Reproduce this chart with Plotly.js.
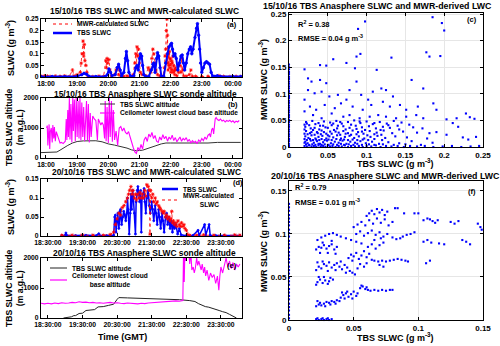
<!DOCTYPE html>
<html><head><meta charset="utf-8">
<script src="https://cdn.plot.ly/plotly-3.0.1.min.js"></script>
<style>html,body{margin:0;padding:0;background:#fff}#plot{width:500px;height:346px}</style>
</head><body><div id="plot"></div><script>
// ---------- DATA ----------
// time axis labels
const timeTicksA = [18,19,20,21,22,23,24];
const timeLabelsA = ['18:00','19:00','20:00','21:00','22:00','23:00','00:00'];
const timeTicksD = [18.5,19.5,20.5,21.5,22.5,23.5];
const timeLabelsD = ['18:30:00','19:30:00','20:30:00','21:30:00','22:30:00','23:30:00'];

// (a) 15/10/16 SLWC [hour, g m-3]
const aMwr = [[17.85,0.003],[17.95,0.005],[18.05,0.004],[18.15,0.002],[18.3,0.004],[18.45,0.003],[18.6,0.005],[18.75,0.002],[18.85,0.03],[18.9,0.005],[19.0,0.01],[19.1,0.02],[19.13,0.06],[19.16,0.1],[19.19,0.155],[19.21,0.09],[19.23,0.14],[19.25,0.07],[19.28,0.05],[19.31,0.02],[19.35,0.003],[19.5,0.002],[19.7,0.004],[19.85,0.003],[19.92,0.07],[19.94,0.04],[19.96,0.08],[19.98,0.06],[20.02,0.075],[20.05,0.03],[20.1,0.005],[20.2,0.01],[20.25,0.03],[20.3,0.04],[20.33,0.01],[20.36,0.03],[20.4,0.005],[20.5,0.003],[20.6,0.005],[20.7,0.002],[20.8,0.01],[20.85,0.06],[20.88,0.1],[20.9,0.04],[20.92,0.13],[20.94,0.09],[20.97,0.12],[21.0,0.06],[21.03,0.02],[21.08,0.01],[21.2,0.005],[21.28,0.04],[21.32,0.03],[21.36,0.02],[21.4,0.08],[21.43,0.12],[21.46,0.1],[21.5,0.06],[21.53,0.03],[21.58,0.01],[21.65,0.005],[21.75,0.003],[21.8,0.04],[21.82,0.09],[21.84,0.12],[21.86,0.2],[21.88,0.25],[21.89,0.06],[21.9,0.18],[21.92,0.03],[21.93,0.1],[21.95,0.05],[21.96,0.11],[21.98,0.04],[21.99,0.08],[22.01,0.02],[22.02,0.07],[22.04,0.03],[22.05,0.06],[22.07,0.09],[22.08,0.02],[22.1,0.05],[22.12,0.03],[22.13,0.01],[22.15,0.04],[22.17,0.03],[22.2,0.005],[22.25,0.02],[22.3,0.05],[22.33,0.02],[22.36,0.08],[22.38,0.03],[22.42,0.005],[22.5,0.003],[22.6,0.01],[22.65,0.03],[22.7,0.002],[22.8,0.003],[23.0,0.002],[23.2,0.003],[23.4,0.002],[23.55,0.006],[23.7,0.003],[23.9,0.002],[24.1,0.003],[24.25,0.002]];
const aTbs = [[17.85,0.001],[18.2,0.002],[18.6,0.001],[19.0,0.003],[19.15,0.01],[19.22,0.016],[19.3,0.012],[19.38,0.003],[19.6,0.002],[19.9,0.002],[19.97,0.01],[20.02,0.035],[20.07,0.02],[20.12,0.005],[20.22,0.01],[20.28,0.04],[20.33,0.055],[20.38,0.03],[20.43,0.004],[20.5,0.02],[20.55,0.08],[20.58,0.11],[20.62,0.07],[20.66,0.02],[20.72,0.003],[20.82,0.005],[20.88,0.04],[20.92,0.05],[20.96,0.03],[21.0,0.08],[21.03,0.1],[21.07,0.09],[21.1,0.05],[21.14,0.01],[21.2,0.002],[21.3,0.003],[21.38,0.03],[21.43,0.055],[21.46,0.06],[21.5,0.02],[21.55,0.08],[21.58,0.105],[21.62,0.09],[21.66,0.04],[21.7,0.004],[21.78,0.003],[21.84,0.06],[21.9,0.1],[21.95,0.13],[22.0,0.14],[22.03,0.145],[22.06,0.12],[22.1,0.09],[22.14,0.1],[22.18,0.08],[22.23,0.03],[22.28,0.06],[22.33,0.09],[22.37,0.095],[22.41,0.06],[22.45,0.03],[22.5,0.06],[22.55,0.1],[22.6,0.12],[22.64,0.13],[22.68,0.1],[22.72,0.12],[22.78,0.17],[22.83,0.21],[22.86,0.23],[22.9,0.18],[22.93,0.12],[22.96,0.06],[23.0,0.02],[23.05,0.04],[23.1,0.06],[23.15,0.066],[23.2,0.06],[23.25,0.055],[23.3,0.02],[23.35,0.004],[23.5,0.005],[23.6,0.002],[24.0,0.002],[24.25,0.002]];

// (b) 15/10/16 altitudes [hour, m a.g.l.]
const bTbsAlt = [[17.84,180],[18.0,185],[18.2,190],[18.35,200],[18.45,260],[18.55,330],[18.7,420],[18.85,500],[19.0,550],[19.2,570],[19.4,580],[19.6,575],[19.8,540],[20.0,470],[20.2,430],[20.4,390],[20.6,330],[20.75,270],[20.9,240],[21.1,260],[21.3,320],[21.5,400],[21.7,470],[21.85,500],[22.0,500],[22.3,495],[22.6,500],[22.9,500],[23.2,500],[23.5,520],[23.8,520],[24.1,510],[24.25,520]];
const bCeil = [[18.02,1000],[18.04,1080],[18.06,420],[18.08,950],[18.1,1120],[18.12,300],[18.14,880],[18.17,1000],[18.2,520],[18.22,1100],[18.25,650],[18.27,1030],[18.3,560],[18.33,880],[18.45,500],[18.5,520],[18.55,480],[18.62,560],[18.65,1300],[18.67,600],[18.7,1600],[18.72,700],[18.75,2000],[18.77,620],[18.8,1800],[18.83,520],[18.86,2000],[18.88,900],[18.91,1950],[18.94,560],[18.97,2000],[19.0,700],[19.03,1900],[19.06,650],[19.09,2000],[19.12,580],[19.15,1850],[19.18,700],[19.21,1700],[19.24,560],[19.27,1200],[19.3,1900],[19.33,600],[19.36,1800],[19.39,520],[19.42,1500],[19.45,700],[19.5,1400],[19.55,1300],[19.6,1250],[19.65,600],[19.68,1300],[19.72,1200],[19.76,1100],[19.8,1180],[19.84,1100],[19.88,650],[19.9,1900],[19.93,560],[19.96,1700],[20.0,500],[20.03,2000],[20.06,700],[20.1,1900],[20.13,540],[20.16,1600],[20.2,600],[20.25,900],[20.3,420],[20.35,1000],[20.4,1050],[20.45,900],[20.5,1000],[20.55,850],[20.6,800],[20.65,880],[20.7,700],[20.75,500],[20.8,350],[20.85,200],[20.9,150],[20.95,350],[21.0,250],[21.05,450],[21.1,300],[21.15,600],[21.2,700],[21.25,550],[21.3,800],[21.35,700],[21.4,850],[21.45,650],[21.5,750],[21.55,560],[21.6,520],[21.65,700],[21.7,600],[21.75,780],[21.8,640],[21.85,720],[21.9,560],[21.95,700],[22.0,620],[22.05,760],[22.1,580],[22.15,680],[22.2,540],[22.25,620],[22.3,700],[22.35,560],[22.4,650],[22.45,600],[22.5,680],[22.55,550],[22.6,620],[22.65,500],[22.7,580],[22.75,520],[22.8,560],[22.85,480],[22.9,600],[22.95,540],[23.0,650],[23.05,580],[23.1,700],[23.15,620],[23.2,760],[23.25,800],[23.28,700],[23.32,950],[23.35,1000],[23.38,800],[23.4,1050],[23.43,1300],[23.46,1350],[23.5,1280],[23.55,1250],[23.6,1300],[23.65,1230],[23.7,1260],[23.75,1200],[23.8,1250],[23.85,1220],[23.9,1260],[23.95,1200],[24.0,1240],[24.05,1180],[24.1,1230],[24.15,1200],[24.2,1250]];

// (d) 20/10/16 SLWC [hour, g m-3]
const dTbs = [[18.9,0.001],[19.0,0.002],[19.02,0.008],[19.05,0.001],[19.3,0.001],[19.6,0.002],[19.9,0.001],[19.97,0.006],[20.0,0.001],[20.2,0.001],[20.4,0.002],[20.43,0.05],[20.45,0.055],[20.47,0.01],[20.5,0.04],[20.52,0.06],[20.55,0.02],[20.58,0.065],[20.6,0.07],[20.63,0.03],[20.66,0.05],[20.69,0.065],[20.72,0.055],[20.75,0.04],[20.78,0.06],[20.8,0.1],[20.82,0.07],[20.85,0.005],[20.88,0.06],[20.9,0.11],[20.92,0.07],[20.95,0.12],[20.97,0.1],[21.0,0.06],[21.03,0.005],[21.05,0.09],[21.08,0.12],[21.1,0.13],[21.13,0.11],[21.15,0.09],[21.18,0.12],[21.2,0.01],[21.22,0.1],[21.25,0.11],[21.28,0.125],[21.3,0.09],[21.33,0.06],[21.36,0.1],[21.4,0.12],[21.43,0.08],[21.46,0.06],[21.5,0.09],[21.53,0.07],[21.56,0.04],[21.6,0.08],[21.63,0.06],[21.66,0.03],[21.7,0.07],[21.73,0.05],[21.76,0.02],[21.8,0.06],[21.83,0.04],[21.86,0.01],[21.9,0.05],[21.93,0.06],[21.96,0.03],[22.0,0.05],[22.03,0.02],[22.06,0.04],[22.1,0.01],[22.13,0.035],[22.16,0.02],[22.2,0.03],[22.25,0.005],[22.3,0.02],[22.35,0.003],[22.5,0.001],[22.7,0.002],[22.84,0.015],[22.87,0.001],[23.03,0.03],[23.06,0.002],[23.16,0.03],[23.19,0.002],[23.35,0.001],[23.6,0.001],[23.9,0.001],[24.05,0.001]];
const dMwr = [[18.9,0.002],[19.2,0.002],[19.5,0.003],[19.8,0.002],[20.1,0.002],[20.3,0.004],[20.4,0.01],[20.45,0.03],[20.5,0.045],[20.55,0.06],[20.6,0.055],[20.65,0.075],[20.7,0.08],[20.75,0.09],[20.8,0.1],[20.83,0.11],[20.86,0.12],[20.9,0.13],[20.93,0.11],[20.96,0.12],[21.0,0.1],[21.03,0.11],[21.06,0.095],[21.1,0.11],[21.13,0.1],[21.16,0.115],[21.2,0.1],[21.23,0.11],[21.26,0.1],[21.3,0.12],[21.33,0.105],[21.36,0.135],[21.4,0.13],[21.43,0.12],[21.45,0.005],[21.47,0.12],[21.5,0.1],[21.53,0.11],[21.56,0.09],[21.6,0.1],[21.63,0.085],[21.66,0.09],[21.7,0.08],[21.73,0.075],[21.76,0.07],[21.8,0.065],[21.83,0.06],[21.86,0.065],[21.9,0.05],[21.93,0.055],[21.96,0.045],[22.0,0.05],[22.03,0.04],[22.06,0.045],[22.08,0.065],[22.1,0.035],[22.13,0.04],[22.16,0.03],[22.2,0.035],[22.23,0.025],[22.26,0.04],[22.3,0.03],[22.33,0.025],[22.36,0.035],[22.4,0.025],[22.43,0.03],[22.46,0.02],[22.5,0.015],[22.53,0.005],[22.6,0.002],[22.8,0.002],[23.0,0.003],[23.3,0.002],[23.6,0.002],[23.9,0.003],[24.05,0.002]];

// (e) 20/10/16 altitudes [hour, m a.g.l.]
const eTbsAlt = [[18.95,0],[19.1,10],[19.18,40],[19.25,80],[19.3,80],[19.4,150],[19.5,160],[19.6,250],[19.75,260],[19.85,280],[19.95,370],[20.1,380],[20.25,420],[20.4,460],[20.5,620],[20.55,680],[20.8,670],[21.1,660],[21.4,650],[21.7,630],[22.0,620],[22.3,610],[22.6,580],[22.75,550],[22.85,480],[22.95,420],[23.05,380],[23.15,360],[23.25,330],[23.35,290],[23.45,250],[23.55,210],[23.65,180],[23.75,120],[23.85,60],[23.92,10],[23.95,0]];
const eCeil = [[18.3,490],[18.4,470],[18.5,490],[18.6,470],[18.7,500],[18.8,480],[18.9,510],[19.0,490],[19.1,500],[19.2,520],[19.3,510],[19.4,540],[19.5,520],[19.6,530],[19.7,510],[19.8,520],[19.9,500],[20.0,510],[20.1,490],[20.2,500],[20.3,520],[20.4,500],[20.5,510],[20.6,490],[20.7,480],[20.8,500],[20.9,490],[21.0,480],[21.1,470],[21.2,490],[21.3,480],[21.4,500],[21.5,510],[21.6,520],[21.7,530],[21.8,520],[21.9,540],[22.0,550],[22.1,560],[22.2,570],[22.3,560],[22.4,580],[22.42,2200],[22.44,1200],[22.46,2300],[22.48,1900],[22.5,2300],[22.53,2100],[22.56,2400],[22.6,1800],[22.63,2200],[22.66,1600],[22.7,1700],[22.73,1500],[22.76,1650],[22.8,2000],[22.83,1750],[22.86,1900],[22.9,1700],[22.93,1600],[22.96,1800],[23.0,1500],[23.03,1700],[23.06,1400],[23.1,1600],[23.15,1250],[23.2,1500],[23.25,1350],[23.3,1450],[23.35,1150],[23.4,1400],[23.44,930],[23.47,1400],[23.5,1700],[23.55,1500],[23.6,1800],[23.65,2000],[23.7,1700],[23.75,1900],[23.8,1650],[23.85,1850],[23.9,1600],[23.95,1800],[24.0,1700],[24.05,1800]];

// (c) 15/10/16 scatter [TBS SLWC, MWR SLWC]
const cZero = [[0,0.155],[0,0.15],[0,0.146],[0,0.141],[0,0.137],[0,0.132],[0,0.128],[0,0.123],[0,0.119],[0,0.114],[0,0.11],[0,0.105],[0,0.101],[0,0.096],[0,0.092],[0,0.087],[0,0.083],[0,0.078],[0,0.074],[0,0.069],[0,0.065],[0,0.06],[0,0.056],[0,0.051],[0,0.047],[0,0.042],[0,0.038],[0,0.033],[0,0.029],[0,0.024],[0,0.02],[0,0.015],[0,0.011],[0,0.006],[0,0.002]];
const cHigh = [[0.185,0.244],[0.098,0.236],[0.197,0.233],[0.2,0.219],[0.089,0.222],[0.177,0.178],[0.181,0.17],[0.195,0.171],[0.132,0.168],[0.087,0.17],[0.092,0.175],[0.057,0.165],[0.074,0.158],[0.04,0.154],[0.048,0.153],[0.02,0.146],[0.113,0.145],[0.085,0.148],[0.158,0.126],[0.173,0.11],[0.186,0.082],[0.19,0.07],[0.203,0.052],[0.216,0.054],[0.228,0.063],[0.233,0.056],[0.239,0.053],[0.211,0.045],[0.218,0.038],[0.224,0.018],[0.231,0.014],[0.241,0.019],[0.203,0.023],[0.19,0.028],[0.181,0.026]];
const cMid = [[0.0245,0.129],[0.029,0.123],[0.04,0.126],[0.048,0.12],[0.0245,0.107],[0.033,0.101],[0.042,0.104],[0.052,0.095],[0.063,0.098],[0.074,0.089],[0.078,0.107],[0.087,0.123],[0.093,0.098],[0.102,0.089],[0.108,0.104],[0.119,0.11],[0.125,0.107],[0.134,0.095],[0.121,0.085],[0.027,0.076],[0.035,0.07],[0.046,0.079],[0.059,0.073],[0.067,0.082],[0.082,0.076],[0.095,0.07],[0.106,0.079],[0.13,0.076],[0.143,0.079],[0.151,0.07],[0.166,0.076],[0.031,0.06],[0.042,0.054],[0.055,0.063],[0.07,0.057],[0.078,0.06],[0.091,0.054],[0.104,0.057],[0.115,0.06],[0.125,0.057],[0.138,0.054],[0.151,0.057],[0.164,0.06],[0.173,0.054],[0.02,0.089],[0.02,0.067]];
const cLow = [[0.022,0.047],[0.03,0.049],[0.038,0.045],[0.045,0.048],[0.053,0.046],[0.061,0.049],[0.068,0.044],[0.076,0.047],[0.084,0.05],[0.092,0.045],[0.1,0.048],[0.108,0.043],[0.117,0.047],[0.126,0.044],[0.135,0.049],[0.145,0.046],[0.155,0.042],[0.021,0.038],[0.026,0.041],[0.033,0.036],[0.04,0.04],[0.047,0.037],[0.055,0.041],[0.062,0.035],[0.07,0.039],[0.078,0.036],[0.086,0.04],[0.094,0.037],[0.103,0.039],[0.112,0.035],[0.121,0.038],[0.13,0.036],[0.14,0.04],[0.16,0.037],[0.172,0.035],[0.022,0.03],[0.027,0.026],[0.031,0.032],[0.036,0.028],[0.042,0.031],[0.048,0.025],[0.053,0.029],[0.058,0.032],[0.064,0.027],[0.07,0.03],[0.076,0.026],[0.082,0.031],[0.089,0.028],[0.096,0.025],[0.104,0.03],[0.113,0.027],[0.122,0.031],[0.133,0.026],[0.147,0.029],[0.165,0.027],[0.021,0.02],[0.025,0.017],[0.029,0.022],[0.034,0.016],[0.038,0.019],[0.043,0.021],[0.048,0.016],[0.052,0.02],[0.057,0.018],[0.062,0.022],[0.067,0.016],[0.072,0.019],[0.078,0.021],[0.084,0.017],[0.09,0.02],[0.097,0.016],[0.105,0.019],[0.114,0.021],[0.124,0.017],[0.137,0.02],[0.152,0.018],[0.178,0.016],[0.021,0.01],[0.024,0.007],[0.028,0.012],[0.032,0.008],[0.036,0.011],[0.04,0.006],[0.044,0.009],[0.049,0.012],[0.054,0.007],[0.059,0.01],[0.064,0.008],[0.069,0.012],[0.074,0.006],[0.079,0.01],[0.085,0.008],[0.092,0.011],[0.099,0.007],[0.107,0.01],[0.116,0.006],[0.128,0.009],[0.142,0.007],[0.158,0.011],[0.185,0.008],[0.02,0.002],[0.023,0.001],[0.026,0.003],[0.029,0.001],[0.032,0.002],[0.035,0.0],[0.038,0.003],[0.041,0.001],[0.044,0.002],[0.047,0.0],[0.05,0.003],[0.053,0.001],[0.056,0.002],[0.06,0.0],[0.064,0.002],[0.068,0.001],[0.072,0.003],[0.076,0.0],[0.08,0.002],[0.085,0.001],[0.09,0.002],[0.095,0.0],[0.1,0.002],[0.106,0.001],[0.112,0.003],[0.118,0.0],[0.125,0.002],[0.132,0.001],[0.14,0.002],[0.148,0.0],[0.156,0.002],[0.165,0.001],[0.175,0.002],[0.186,0.0],[0.198,0.001],[0.21,0.002],[0.222,0.0],[0.234,0.001],[0.245,0.002]];
const cLow2 = [[0.023,0.044],[0.028,0.035],[0.034,0.043],[0.039,0.033],[0.044,0.04],[0.05,0.036],[0.057,0.044],[0.063,0.04],[0.066,0.047],[0.073,0.033],[0.08,0.042],[0.087,0.034],[0.091,0.048],[0.098,0.032],[0.11,0.045],[0.118,0.032],[0.128,0.041],[0.142,0.033],[0.024,0.024],[0.029,0.028],[0.033,0.023],[0.037,0.026],[0.041,0.024],[0.045,0.028],[0.05,0.022],[0.055,0.025],[0.06,0.029],[0.066,0.023],[0.073,0.025],[0.08,0.023],[0.087,0.024],[0.094,0.029],[0.101,0.022],[0.11,0.024],[0.119,0.023],[0.023,0.013],[0.027,0.015],[0.031,0.013],[0.035,0.014],[0.039,0.013],[0.042,0.015],[0.046,0.013],[0.051,0.014],[0.055,0.013],[0.061,0.015],[0.066,0.013],[0.071,0.014],[0.076,0.013],[0.082,0.014],[0.088,0.013],[0.095,0.014],[0.102,0.013],[0.11,0.015],[0.12,0.013],[0.022,0.005],[0.026,0.004],[0.03,0.005],[0.034,0.004],[0.038,0.006],[0.042,0.004],[0.046,0.005],[0.051,0.004],[0.057,0.005],[0.062,0.004],[0.067,0.006],[0.071,0.004],[0.077,0.005],[0.083,0.004],[0.088,0.006],[0.094,0.004],[0.103,0.005],[0.11,0.004],[0.121,0.005],[0.135,0.004],[0.15,0.005],[0.17,0.004],[0.02,0.025],[0.02,0.033],[0.02,0.042],[0.02,0.015],[0.02,0.008]];

// (f) 20/10/16 scatter [TBS SLWC, MWR SLWC]
const fZero = [[0,0.135],[0,0.131],[0,0.127],[0,0.122],[0,0.118],[0,0.114],[0,0.11],[0,0.105],[0,0.101],[0,0.097],[0,0.092],[0,0.088],[0,0.084],[0,0.079],[0,0.075],[0,0.071],[0,0.067],[0,0.062],[0,0.058],[0,0.054],[0,0.049],[0,0.045],[0,0.041],[0,0.036],[0,0.032],[0,0.028],[0,0.024],[0,0.019],[0,0.015],[0,0.011],[0,0.006],[0,0.002]];
const fPts = [[0.021,0.001],[0.023,0.0],[0.025,0.001],[0.027,0.0],[0.029,0.001],[0.031,0.0],[0.033,0.001],[0.022,0.002],[0.026,0.002],[0.03,0.002],[0.021,0.016],[0.023,0.018],[0.025,0.017],[0.027,0.019],[0.029,0.021],[0.031,0.02],[0.033,0.022],[0.035,0.021],[0.037,0.023],[0.039,0.022],[0.024,0.02],[0.028,0.016],[0.032,0.018],[0.022,0.022],[0.036,0.019],[0.04,0.026],[0.042,0.029],[0.044,0.031],[0.046,0.027],[0.048,0.03],[0.05,0.033],[0.052,0.028],[0.045,0.033],[0.041,0.032],[0.049,0.025],[0.053,0.031],[0.043,0.025],[0.055,0.037],[0.057,0.039],[0.059,0.036],[0.061,0.035],[0.063,0.034],[0.066,0.035],[0.069,0.034],[0.072,0.035],[0.075,0.034],[0.078,0.035],[0.08,0.035],[0.056,0.04],[0.06,0.038],[0.021,0.041],[0.022,0.044],[0.024,0.047],[0.026,0.043],[0.028,0.046],[0.03,0.042],[0.032,0.049],[0.023,0.05],[0.027,0.05],[0.031,0.045],[0.034,0.047],[0.021,0.058],[0.023,0.062],[0.025,0.06],[0.027,0.065],[0.029,0.063],[0.031,0.067],[0.033,0.061],[0.035,0.064],[0.037,0.066],[0.039,0.062],[0.041,0.059],[0.043,0.064],[0.045,0.061],[0.047,0.057],[0.049,0.055],[0.051,0.053],[0.022,0.067],[0.026,0.068],[0.03,0.057],[0.036,0.058],[0.04,0.068],[0.044,0.055],[0.053,0.06],[0.055,0.065],[0.058,0.062],[0.06,0.066],[0.046,0.072],[0.048,0.076],[0.05,0.074],[0.052,0.078],[0.054,0.071],[0.056,0.075],[0.058,0.08],[0.06,0.073],[0.062,0.077],[0.064,0.07],[0.049,0.069],[0.066,0.069],[0.069,0.068],[0.072,0.069],[0.075,0.068],[0.078,0.069],[0.081,0.07],[0.084,0.071],[0.087,0.07],[0.09,0.069],[0.092,0.068],[0.07,0.064],[0.073,0.062],[0.021,0.082],[0.023,0.085],[0.025,0.084],[0.027,0.087],[0.029,0.083],[0.031,0.086],[0.033,0.088],[0.035,0.082],[0.037,0.085],[0.024,0.078],[0.03,0.078],[0.036,0.077],[0.022,0.093],[0.025,0.096],[0.028,0.098],[0.031,0.1],[0.034,0.101],[0.037,0.099],[0.04,0.097],[0.044,0.095],[0.048,0.093],[0.052,0.091],[0.056,0.089],[0.026,0.09],[0.033,0.092],[0.052,0.1],[0.055,0.103],[0.058,0.098],[0.061,0.101],[0.064,0.104],[0.067,0.099],[0.07,0.102],[0.073,0.097],[0.076,0.1],[0.05,0.108],[0.053,0.111],[0.056,0.114],[0.059,0.11],[0.062,0.116],[0.065,0.112],[0.068,0.118],[0.071,0.113],[0.074,0.117],[0.077,0.11],[0.08,0.114],[0.06,0.121],[0.062,0.124],[0.064,0.127],[0.066,0.123],[0.068,0.129],[0.07,0.125],[0.072,0.128],[0.074,0.122],[0.076,0.126],[0.082,0.13],[0.084,0.13],[0.061,0.085],[0.064,0.088],[0.067,0.083],[0.07,0.087],[0.073,0.09],[0.066,0.093],[0.071,0.095],[0.08,0.096],[0.083,0.094],[0.086,0.095],[0.088,0.097],[0.091,0.099],[0.094,0.1],[0.097,0.102],[0.089,0.124],[0.097,0.124],[0.1,0.124],[0.104,0.116],[0.107,0.118],[0.109,0.117],[0.111,0.115],[0.113,0.113],[0.115,0.116],[0.104,0.091],[0.107,0.093],[0.11,0.09],[0.116,0.089],[0.12,0.088],[0.125,0.114],[0.128,0.112],[0.131,0.115],[0.134,0.093],[0.137,0.091],[0.14,0.088],[0.146,0.112],[0.148,0.108],[0.149,0.105],[0.106,0.066],[0.109,0.069]];

// ---------- RENDER ----------
const W = 500, H = 346;
const px = x => x / W, py = y => 1 - y / H;
const X = a => a.map(p => p[0]), Y = a => a.map(p => p[1]);
const F = 'Liberation Sans, Arial, sans-serif';
const BLUE = '#0000ff', RED = '#ff0000', MAG = '#ff00ff';

function line(d, xa, ya, color, width, dash, msize, msym) {
  return {type: 'scatter', mode: msize ? 'lines+markers' : 'lines', x: X(d), y: Y(d), xaxis: xa, yaxis: ya,
    line: {color: color, width: width, dash: dash || 'solid'},
    marker: {color: color, size: msize || 0, symbol: msym || 'circle', line: {color: color, width: 0.8}},
    showlegend: false, hoverinfo: 'skip'};
}
function pts(d, xa, ya) {
  return {type: 'scatter', mode: 'markers', x: X(d), y: Y(d), xaxis: xa, yaxis: ya, cliponaxis: false,
    marker: {color: BLUE, size: 2.1, symbol: 'square'}, showlegend: false, hoverinfo: 'skip'};
}
const cAll = cZero.concat(cHigh, cMid, cLow, cLow2);
const fAll = fZero.concat(fPts);

const data = [
  line(aMwr, 'x', 'y', RED, 0.8, 'dot', 3, 'asterisk-open'),
  line(aTbs, 'x', 'y', BLUE, 2, 'solid', 2.5),
  line(bTbsAlt, 'x2', 'y2', '#333333', 1),
  line(bCeil, 'x2', 'y2', MAG, 1.1),
  line(dTbs, 'x3', 'y3', BLUE, 1.5, 'solid', 2),
  line(dMwr, 'x3', 'y3', RED, 0.8, 'dot', 3, 'asterisk-open'),
  line(eTbsAlt, 'x4', 'y4', '#222222', 1),
  line(eCeil, 'x4', 'y4', MAG, 1.1),
  pts(cAll, 'x5', 'y5'),
  pts(fAll, 'x6', 'y6')
];

const tfL = {family: F, size: 6.8, color: '#000', weight: 'bold'};
const tfR = {family: F, size: 8, color: '#000', weight: 'bold'};
function ax(o) {
  return Object.assign({showline: true, linecolor: '#000', linewidth: 1, mirror: 'ticks', ticks: 'inside',
    ticklen: 3, tickcolor: '#000', tickfont: tfL, zeroline: false, showgrid: false, fixedrange: true}, o);
}
const LX = [px(41), px(242)], RX = [px(289), px(483)];
const gridR = {showgrid: true, gridcolor: '#e6e6e6', tickfont: tfR};
const layout = {
  width: W, height: H, margin: {l: 0, r: 0, t: 0, b: 0}, paper_bgcolor: '#fff', plot_bgcolor: '#fff',
  font: {family: F, color: '#000'},
  xaxis: ax({domain: LX, anchor: 'y', range: [17.84, 24.29], tickvals: timeTicksA, ticktext: timeLabelsA}),
  yaxis: ax({domain: [py(77), py(19)], anchor: 'x', range: [0, 0.25], dtick: 0.05}),
  xaxis2: ax({domain: LX, anchor: 'y2', range: [17.84, 24.29], tickvals: timeTicksA, ticktext: timeLabelsA}),
  yaxis2: ax({domain: [py(158), py(98)], anchor: 'x2', range: [0, 2000], dtick: 1000, tickformat: 'd'}),
  xaxis3: ax({domain: LX, anchor: 'y3', range: [18.30, 24.11], tickvals: timeTicksD, ticktext: timeLabelsD}),
  yaxis3: ax({domain: [py(236), py(179)], anchor: 'x3', range: [0, 0.15], dtick: 0.05}),
  xaxis4: ax({domain: LX, anchor: 'y4', range: [18.30, 24.11], tickvals: timeTicksD, ticktext: timeLabelsD}),
  yaxis4: ax({domain: [py(318), py(258)], anchor: 'x4', range: [0, 2000], dtick: 1000, tickformat: 'd'}),
  xaxis5: ax(Object.assign({domain: RX, anchor: 'y5', range: [0, 0.25], dtick: 0.05}, gridR)),
  yaxis5: ax(Object.assign({domain: [py(147), py(13)], anchor: 'x5', range: [0, 0.2519], dtick: 0.05}, gridR)),
  xaxis6: ax(Object.assign({domain: RX, anchor: 'y6', range: [0, 0.15], dtick: 0.05}, gridR)),
  yaxis6: ax(Object.assign({domain: [py(320), py(181)], anchor: 'x6', range: [0, 0.1616], dtick: 0.05}, gridR)),
  annotations: [], shapes: []
};

function txt(t, x, y, size, o) {
  layout.annotations.push(Object.assign({text: t, x: px(x), y: py(y), xref: 'paper', yref: 'paper',
    showarrow: false, xanchor: 'center', yanchor: 'middle',
    font: {family: F, size: size, color: '#000', weight: 'bold'}}, o || {}));
}
// titles
txt('15/10/16 TBS SLWC and MWR-calculated SLWC', 144, 11, 8.4);
txt('15/10/16 TBS Anasphere SLWC sonde altitude', 145, 94, 8.4);
txt('20/10/16 TBS SLWC and MWR-calculated SLWC', 146, 172, 8.4);
txt('20/10/16 TBS Anasphere SLWC sonde altitude', 144, 253, 8.4);
txt('15/10/16 TBS Anasphere SLWC and MWR-derived LWC', 377, 6, 8.8);
txt('20/10/16 TBS Anasphere SLWC and MWR-derived LWC', 385, 175.5, 8.8);
// axis titles
txt('SLWC (g m<sup>-3</sup>)', 10, 48, 9, {textangle: -90});
txt('TBS SLWC altitude<br>(m a.g.L)', 14, 127, 8.6, {textangle: -90});
txt('SLWC (g m<sup>-3</sup>)', 10, 207, 9, {textangle: -90});
txt('TBS SLWC altitude<br>(m a.g.L)', 14, 288, 8.6, {textangle: -90});
txt('Time (GMT)', 122, 337, 9);
txt('MWR SLWC (g m<sup>-3</sup>)', 263, 80, 9, {textangle: -90});
txt('MWR SLWC (g m<sup>-3</sup>)', 263, 252, 9, {textangle: -90});
txt('TBS SLWC (g m<sup>-3</sup>)', 395, 163, 9);
txt('TBS SLWC (g m<sup>-3</sup>)', 395, 337, 9);
// stats
txt('R<sup>2</sup> = 0.38', 296, 24, 7.5, {xanchor: 'left'});
txt('RMSE = 0.04 g m<sup>-3</sup>', 296, 38, 7.5, {xanchor: 'left'});
txt('R<sup>2</sup> = 0.79', 293, 187, 7.5, {xanchor: 'left'});
txt('RMSE = 0.01 g m<sup>-3</sup>', 293, 202, 7.5, {xanchor: 'left'});
// panel letters
txt('(a)', 232, 25, 7.5);
txt('(b)', 233, 104, 7.5);
txt('(c)', 472, 20, 7.5);
txt('(d)', 238, 182, 7.5);
txt('(e)', 232, 265, 7.5);
txt('(f)', 472, 192, 7.5);

// legends
function key(x0, x1, y, color, width, dash) {
  layout.shapes.push({type: 'line', xref: 'paper', yref: 'paper', x0: px(x0), x1: px(x1), y0: py(y), y1: py(y),
    line: {color: color, width: width, dash: dash || 'solid'}});
}
const LF = 6.6;
key(53, 72, 24, RED, 1, 'dot'); txt('MWR-calculated SLWC', 75, 24, LF, {xanchor: 'left'});
key(53, 72, 33, BLUE, 2.5);     txt('TBS SLWC', 75, 33, LF, {xanchor: 'left'});
key(100, 115, 104, '#333333', 1); txt('TBS SLWC altitude', 118, 104, LF, {xanchor: 'left'});
key(100, 115, 113, MAG, 1.2);   txt('Ceilometer lowest cloud base altitude', 118, 113, LF, {xanchor: 'left'});
key(162, 178, 189, BLUE, 2.5);  txt('TBS SLWC', 181, 189, LF, {xanchor: 'left'});
key(162, 178, 200, RED, 1, 'dot'); txt('MWR-calculated<br> SLWC', 181, 200, LF, {xanchor: 'left'});
key(50, 67, 268, '#222222', 1); txt('TBS SLWC altitude', 70, 268, LF, {xanchor: 'left'});
key(50, 67, 280, MAG, 1.2);     txt('Ceilometer lowest cloud<br>base altitude', 70, 280, LF, {xanchor: 'left'});

Plotly.newPlot('plot', data, layout, {staticPlot: true, displayModeBar: false});
</script></body></html>
